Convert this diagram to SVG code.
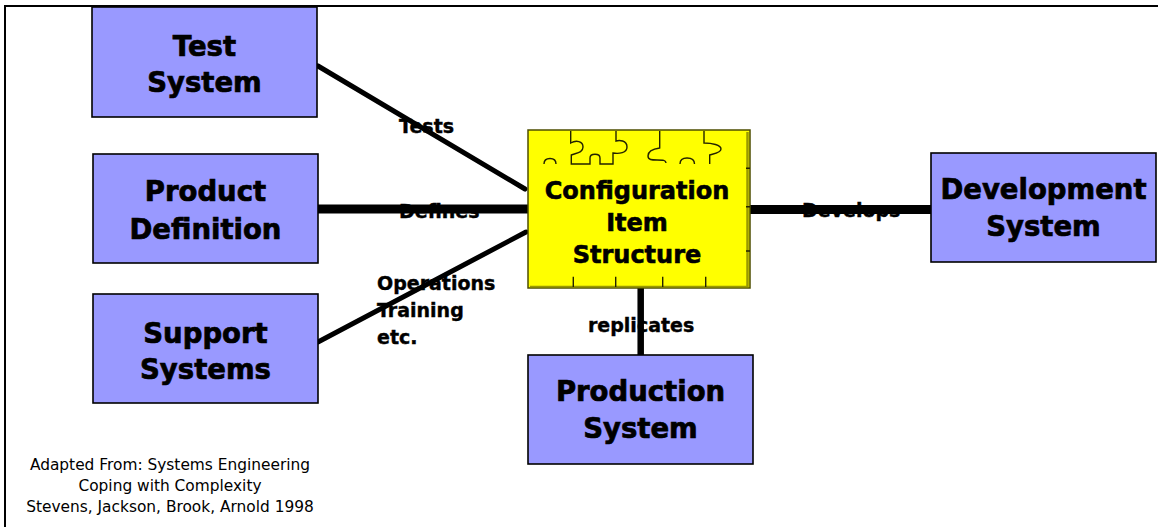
<svg xmlns="http://www.w3.org/2000/svg" width="1158" height="527" viewBox="0 0 1158 527">
<style>
.box{fill:#9999FF;stroke:#000;stroke-width:1.6}
.nt{font-family:"DejaVu Sans",Verdana,sans-serif;font-weight:bold;font-size:27.5px;fill:#000;stroke:#000;stroke-width:0.7;text-anchor:middle}
.ct{font-family:"DejaVu Sans",Verdana,sans-serif;font-weight:bold;font-size:24px;fill:#000;stroke:#000;stroke-width:0.6;text-anchor:middle}
.el{font-family:"DejaVu Sans",Verdana,sans-serif;font-weight:bold;font-size:19px;fill:#000;stroke:#000;stroke-width:0.4}
.ft{font-family:"DejaVu Sans",Verdana,sans-serif;font-size:15.4px;fill:#000;text-anchor:middle}
.con{stroke:#000;fill:none}
.pz{stroke:#222200;stroke-width:1.4;fill:none}
</style>
<rect x="0" y="0" width="1158" height="527" fill="#fff"/>
<rect x="5" y="6" width="1200" height="600" fill="none" stroke="#000" stroke-width="2"/>
<g id="connectors">
<line class="con" x1="318" y1="66" x2="525" y2="189" stroke-width="5" stroke-linecap="round"/>
<line class="con" x1="318" y1="209" x2="528" y2="209" stroke-width="9"/>
<line class="con" x1="318" y1="342" x2="526" y2="232" stroke-width="5" stroke-linecap="round"/>
<line class="con" x1="750" y1="209.5" x2="931" y2="209.5" stroke-width="9"/>
<line class="con" x1="640.7" y1="288" x2="640.7" y2="355" stroke-width="6.5"/>
</g>
<g id="edge-labels">
<text class="el" x="399" y="133">Tests</text>
<text class="el" x="399" y="218">Defines</text>
<text class="el" x="377" y="290">Operations</text>
<text class="el" x="377" y="317">Training</text>
<text class="el" x="377" y="344">etc.</text>
<text class="el" x="588" y="332">replicates</text>
<text class="el" x="802" y="217">Develops</text>
</g>
<g id="test-system">
<rect class="box" x="92" y="7" width="225" height="110"/>
<text class="nt" x="204.5" y="56">Test</text>
<text class="nt" x="204.5" y="92">System</text>
</g>
<g id="product-definition">
<rect class="box" x="93" y="154" width="225" height="109"/>
<text class="nt" x="205.5" y="201">Product</text>
<text class="nt" x="205.5" y="239">Definition</text>
</g>
<g id="support-systems">
<rect class="box" x="93" y="294" width="225" height="109"/>
<text class="nt" x="205.5" y="343">Support</text>
<text class="nt" x="205.5" y="379">Systems</text>
</g>
<g id="configuration-item-structure">
<rect x="528" y="130" width="222" height="158" fill="#FFFF00" stroke="#4d4d00" stroke-width="1.5"/>
<line x1="747.5" y1="132" x2="747.5" y2="287" stroke="#999900" stroke-width="2.5"/>
<line x1="530" y1="286.5" x2="748" y2="286.5" stroke="#999900" stroke-width="1.5"/>
<path class="pz" d="M570.7,131 V143 C576,140 583,141 583,147 C583,153 576,153 571.3,155 V164 H590 V158 C590,153 600,153 600,158 V164 H613 V153 C619,154 627,153 627,147 C627,140 619,140 616,141 V131"/>
<path class="pz" d="M659.7,131 V148 C652,149 648,152 648,156 C648,160 652,160 657,160 C663,160 666,160 666,163"/>
<path class="pz" d="M704,131 V143 C712,143 721,145 721,149 C721,153 712,154 709.7,155 V164"/>
<path class="pz" d="M544,164 C544,159 547,158.5 550,158.5 C553,158.5 556,159 556,164"/>
<path class="pz" d="M680,164 C680,159 684,158 687,158 C691,158 694.5,159 694.5,164"/>
<path class="pz" d="M746,168.3 H750 M746,206.7 H750 M746,251 H750 M573.3,276.7 V287 M615.7,276.7 V287 M662.7,276.7 V287 M705.7,276.7 V287"/>
<text class="ct" x="637" y="199">Configuration</text>
<text class="ct" x="637" y="231">Item</text>
<text class="ct" x="637" y="263">Structure</text>
</g>
<g id="development-system">
<rect class="box" x="931" y="153" width="225" height="109"/>
<text class="nt" x="1043.5" y="199">Development</text>
<text class="nt" x="1043.5" y="236">System</text>
</g>
<g id="production-system">
<rect class="box" x="528" y="355" width="225" height="109"/>
<text class="nt" x="640.5" y="401">Production</text>
<text class="nt" x="640.5" y="438">System</text>
</g>
<g id="credit">
<text class="ft" x="170" y="470">Adapted From: Systems Engineering</text>
<text class="ft" x="170" y="491">Coping with Complexity</text>
<text class="ft" x="170" y="512">Stevens, Jackson, Brook, Arnold 1998</text>
</g>
</svg>
